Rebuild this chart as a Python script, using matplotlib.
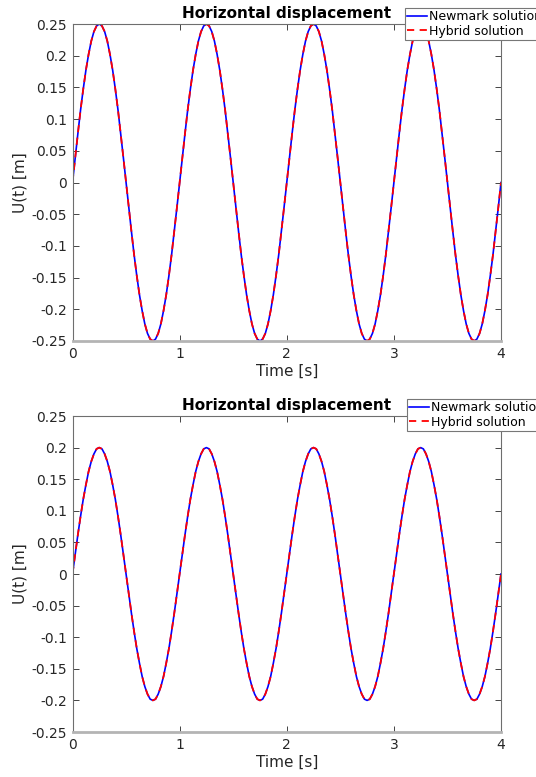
import numpy as np
import matplotlib.pyplot as plt

plt.rcParams['font.family'] = ['DejaVu Sans']

# time samples [s], dt = 0.025
t = np.linspace(0, 4, 161)

# horizontal displacement, case 1 [m]
u_newmark_1 = [
    0, 0.039, 0.077, 0.114, 0.147, 0.177, 0.202, 0.223, 0.238, 0.247, 0.250, 0.247, 0.238, 0.223, 0.202, 0.177, 0.147, 0.114, 0.077, 0.039,
    0, -0.039, -0.077, -0.114, -0.147, -0.177, -0.202, -0.223, -0.238, -0.247, -0.250, -0.247, -0.238, -0.223, -0.202, -0.177, -0.147, -0.114, -0.077, -0.039,
    0, 0.039, 0.077, 0.114, 0.147, 0.177, 0.202, 0.223, 0.238, 0.247, 0.250, 0.247, 0.238, 0.223, 0.202, 0.177, 0.147, 0.114, 0.077, 0.039,
    0, -0.039, -0.077, -0.114, -0.147, -0.177, -0.202, -0.223, -0.238, -0.247, -0.250, -0.247, -0.238, -0.223, -0.202, -0.177, -0.147, -0.114, -0.077, -0.039,
    0, 0.039, 0.077, 0.114, 0.147, 0.177, 0.202, 0.223, 0.238, 0.247, 0.250, 0.247, 0.238, 0.223, 0.202, 0.177, 0.147, 0.114, 0.077, 0.039,
    0, -0.039, -0.077, -0.114, -0.147, -0.177, -0.202, -0.223, -0.238, -0.247, -0.250, -0.247, -0.238, -0.223, -0.202, -0.177, -0.147, -0.114, -0.077, -0.039,
    0, 0.039, 0.077, 0.114, 0.147, 0.177, 0.202, 0.223, 0.238, 0.247, 0.250, 0.247, 0.238, 0.223, 0.202, 0.177, 0.147, 0.114, 0.077, 0.039,
    0, -0.039, -0.077, -0.114, -0.147, -0.177, -0.202, -0.223, -0.238, -0.247, -0.250, -0.247, -0.238, -0.223, -0.202, -0.177, -0.147, -0.114, -0.077, -0.039,
    0]
u_hybrid_1 = list(u_newmark_1)

# horizontal displacement, case 2 [m]
u_newmark_2 = [
    0, 0.031, 0.062, 0.091, 0.118, 0.141, 0.162, 0.178, 0.190, 0.198, 0.200, 0.198, 0.190, 0.178, 0.162, 0.141, 0.118, 0.091, 0.062, 0.031,
    0, -0.031, -0.062, -0.091, -0.118, -0.141, -0.162, -0.178, -0.190, -0.198, -0.200, -0.198, -0.190, -0.178, -0.162, -0.141, -0.118, -0.091, -0.062, -0.031,
    0, 0.031, 0.062, 0.091, 0.118, 0.141, 0.162, 0.178, 0.190, 0.198, 0.200, 0.198, 0.190, 0.178, 0.162, 0.141, 0.118, 0.091, 0.062, 0.031,
    0, -0.031, -0.062, -0.091, -0.118, -0.141, -0.162, -0.178, -0.190, -0.198, -0.200, -0.198, -0.190, -0.178, -0.162, -0.141, -0.118, -0.091, -0.062, -0.031,
    0, 0.031, 0.062, 0.091, 0.118, 0.141, 0.162, 0.178, 0.190, 0.198, 0.200, 0.198, 0.190, 0.178, 0.162, 0.141, 0.118, 0.091, 0.062, 0.031,
    0, -0.031, -0.062, -0.091, -0.118, -0.141, -0.162, -0.178, -0.190, -0.198, -0.200, -0.198, -0.190, -0.178, -0.162, -0.141, -0.118, -0.091, -0.062, -0.031,
    0, 0.031, 0.062, 0.091, 0.118, 0.141, 0.162, 0.178, 0.190, 0.198, 0.200, 0.198, 0.190, 0.178, 0.162, 0.141, 0.118, 0.091, 0.062, 0.031,
    0, -0.031, -0.062, -0.091, -0.118, -0.141, -0.162, -0.178, -0.190, -0.198, -0.200, -0.198, -0.190, -0.178, -0.162, -0.141, -0.118, -0.091, -0.062, -0.031,
    0]
u_hybrid_2 = list(u_newmark_2)

yticks = [-0.25, -0.2, -0.15, -0.1, -0.05, 0, 0.05, 0.1, 0.15, 0.2, 0.25]
ytick_labels = ['-0.25', '-0.2', '-0.15', '-0.1', '-0.05', '0', '0.05', '0.1', '0.15', '0.2', '0.25']
xticks = [0, 1, 2, 3, 4]

W, H = 536, 777
fig = plt.figure(figsize=(W / 100, H / 100), dpi=100)

# axes boxes in pixels: left, top, right, bottom
boxes = [(72.5, 24, 501, 341), (72.5, 416, 501, 732)]
legend_pos = [(405, 8), (407, 399)]
data = [(u_newmark_1, u_hybrid_1), (u_newmark_2, u_hybrid_2)]
dark = '#262626'

for (l, tp, r, b), (lx, ly), (un, uh) in zip(boxes, legend_pos, data):
    ax = fig.add_axes([l / W, 1 - b / H, (r - l) / W, (b - tp) / H])
    h1, = ax.plot(t, un, color='#0000ff', lw=1.2, label='Newmark solution')
    h2, = ax.plot(t, uh, color='#ff0000', lw=1.3, ls=(0, (4, 3)), label='Hybrid solution')
    ax.set_xlim(0, 4)
    ax.set_ylim(-0.25, 0.25)
    ax.set_xticks(xticks)
    ax.set_yticks(yticks)
    ax.set_yticklabels(ytick_labels)
    ax.tick_params(direction='in', length=4, width=0.6, colors=dark, labelsize=10,
                   top=True, right=True, pad=4)
    for s in ['top', 'right', 'left']:
        ax.spines[s].set_color('#6e6e6e')
        ax.spines[s].set_linewidth(0.8)
    ax.spines['bottom'].set_color('#b4b4b4')
    ax.spines['bottom'].set_linewidth(2)
    ax.set_xlabel('Time [s]', fontsize=11, color=dark, labelpad=2)
    ax.set_ylabel('U(t) [m]', fontsize=11, color=dark, labelpad=3)
    ax.set_title('Horizontal displacement', fontsize=11, fontweight='bold', pad=4)
    leg = fig.legend(handles=[h1, h2], loc='upper left',
                     bbox_to_anchor=(lx / W, 1 - ly / H), fontsize=9,
                     frameon=True, fancybox=False, framealpha=1,
                     edgecolor='#777777', borderpad=0.15, labelspacing=0.15,
                     handlelength=1.6, handletextpad=0.2, borderaxespad=0)
    leg.get_frame().set_linewidth(0.8)

fig.savefig('out.png', dpi=100)
